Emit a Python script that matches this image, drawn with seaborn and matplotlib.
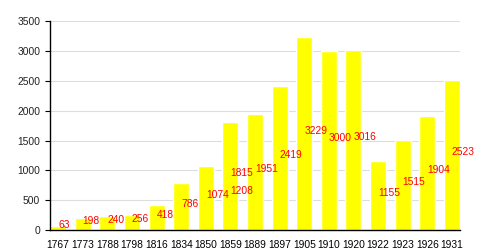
import matplotlib
matplotlib.use("Agg")
import matplotlib.pyplot as plt
import seaborn as sns
import pandas as pd

years = ["1767", "1773", "1788", "1798", "1816", "1834", "1850", "1859", "1859",
         "1889", "1897", "1905", "1910", "1920", "1922", "1923", "1926", "1931"]
values = [63, 198, 240, 256, 418, 786, 1074, 1208, 1815,
          1951, 2419, 3229, 3000, 3016, 1155, 1515, 1904, 2523]
categories = list(dict.fromkeys(years))
yticks = [0, 500, 1000, 1500, 2000, 2500, 3000, 3500]

sns.set_theme(style="white")
plt.rcParams["font.family"] = ["Liberation Sans", "DejaVu Sans"]

df = pd.DataFrame({"year": years, "value": values})

fig = plt.figure(figsize=(5, 2.5), dpi=100)
ax = fig.add_axes([0.1, 0.08, 0.82, 0.835])

sns.barplot(data=df, x="year", y="value", order=categories, estimator="max",
            errorbar=None, color="#ffff00", saturation=1, width=0.65, ax=ax,
            zorder=2)

for y, v in zip(years, values):
    xi = categories.index(y)
    ax.text(xi, v / 2, str(v), color="#ff0000", fontsize=7.4, ha="left",
            va="baseline", zorder=3)

ax.set_ylim(0, 3500)
ax.set_yticks(yticks)
ax.set_xlim(-0.33, len(categories) - 1 + 0.33)
ax.yaxis.grid(True, color="#dddddd", linewidth=0.8, zorder=0)
ax.set_axisbelow(True)
ax.set_xlabel("")
ax.set_ylabel("")
for side in ["top", "right"]:
    ax.spines[side].set_visible(False)
for side in ["left", "bottom"]:
    ax.spines[side].set_color("black")
    ax.spines[side].set_linewidth(1.0)
ax.tick_params(axis="y", left=True, length=3.6, width=0.8, color="black",
               labelsize=7.4, pad=3.5, labelcolor="#222222")
ax.tick_params(axis="x", bottom=False, labelsize=7.4, pad=1.5, labelcolor="black")

fig.savefig("out.png", dpi=100)
